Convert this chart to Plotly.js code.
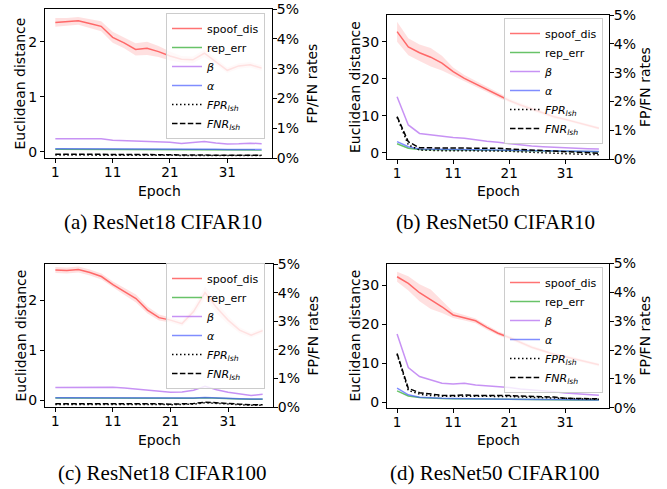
<!DOCTYPE html>
<html>
<head>
<meta charset="utf-8">
<script src="https://cdn.plot.ly/plotly-3.0.1.min.js"></script>
<style>html,body{margin:0;padding:0;background:#fff;}#chart{width:667px;height:489px;}</style>
</head>
<body>
<div id="chart"></div>
<script>
// ---------- data ----------
const epochs = [1,3,5,7,9,11,13,15,17,19,21,23,25,27,29,31,33,35,37];
const xTicks = [1, 11, 21, 31];
const rateTicks = [0, 1, 2, 3, 4, 5];
const seriesNames = ["spoof_dis", "rep_err", "<i>β</i>", "<i>α</i>", "<i>FPR<sub>lsh</sub></i>", "<i>FNR<sub>lsh</sub></i>"];
const captions = ["(a) ResNet18 CIFAR10", "(b) ResNet50 CIFAR10", "(c) ResNet18 CIFAR100", "(d) ResNet50 CIFAR100"];

// (a) ResNet18 CIFAR10
const aSpoof    = [2.35,2.36,2.38,2.33,2.28,2.08,1.98,1.86,1.88,1.82,1.74,1.68,1.67,1.79,1.64,1.48,1.56,1.58,1.52];
const aSpoofStd = [0.08,0.07,0.07,0.08,0.09,0.10,0.10,0.11,0.12,0.10,0.08,0.06,0.06,0.07,0.06,0.05,0.05,0.05,0.05];
const aRep      = [0.045,0.045,0.045,0.045,0.044,0.042,0.042,0.040,0.040,0.038,0.038,0.036,0.036,0.036,0.035,0.033,0.033,0.033,0.032];
const aBeta     = [0.236,0.238,0.238,0.237,0.236,0.207,0.200,0.190,0.190,0.180,0.170,0.150,0.170,0.185,0.160,0.140,0.145,0.155,0.145];
const aAlpha    = [0.055,0.055,0.055,0.055,0.054,0.050,0.050,0.048,0.047,0.046,0.045,0.044,0.043,0.043,0.042,0.040,0.040,0.040,0.038];
const aFPR      = [0.10,0.10,0.10,0.10,0.10,0.10,0.09,0.09,0.09,0.09,0.09,0.08,0.08,0.09,0.08,0.08,0.08,0.08,0.08];
const aFNR      = [0.13,0.13,0.13,0.13,0.13,0.12,0.12,0.12,0.12,0.11,0.11,0.10,0.10,0.11,0.10,0.09,0.09,0.09,0.09];

// (b) ResNet50 CIFAR10
const bSpoof    = [32.7,28.6,27.0,25.8,24.2,21.9,20.1,18.6,17.1,15.6,14.1,12.9,11.8,10.8,9.7,9.0,8.2,7.5,6.6];
const bSpoofStd = [2.7,2.3,2.2,2.5,2.0,1.1,0.9,0.8,0.7,0.7,0.6,0.6,0.5,0.5,0.5,0.4,0.4,0.4,0.4];
const bRep      = [2.4,1.2,0.9,0.85,0.8,0.8,0.75,0.75,0.7,0.65,0.6,0.55,0.5,0.45,0.4,0.35,0.3,0.3,0.25];
const bBeta     = [15.1,7.5,5.2,4.8,4.5,4.1,3.9,3.4,3.1,2.8,2.4,2.1,1.8,1.6,1.4,1.3,1.2,1.1,1.0];
const bAlpha    = [3.0,1.6,1.0,0.95,0.9,0.85,0.8,0.8,0.75,0.7,0.65,0.6,0.55,0.5,0.45,0.4,0.35,0.3,0.3];
const bFPR      = [1.45,0.49,0.31,0.29,0.29,0.29,0.29,0.29,0.29,0.28,0.27,0.25,0.23,0.21,0.19,0.18,0.17,0.16,0.15];
const bFNR      = [1.47,0.60,0.39,0.39,0.39,0.39,0.39,0.38,0.38,0.37,0.35,0.33,0.31,0.29,0.27,0.25,0.23,0.21,0.20];

// (c) ResNet18 CIFAR100
const cSpoof    = [2.60,2.59,2.61,2.55,2.47,2.31,2.17,2.03,1.80,1.65,1.60,1.53,1.77,2.15,1.85,1.60,1.40,1.30,1.39];
const cSpoofStd = [0.06,0.06,0.06,0.06,0.06,0.06,0.07,0.08,0.07,0.06,0.05,0.05,0.08,0.12,0.12,0.08,0.06,0.05,0.05];
const cRep      = [0.045,0.045,0.045,0.045,0.045,0.045,0.043,0.040,0.038,0.036,0.035,0.035,0.040,0.052,0.040,0.030,0.025,0.020,0.020];
const cBeta     = [0.253,0.255,0.265,0.267,0.265,0.260,0.245,0.225,0.200,0.175,0.160,0.165,0.200,0.280,0.210,0.160,0.120,0.095,0.120];
const cAlpha    = [0.050,0.050,0.050,0.050,0.050,0.050,0.048,0.045,0.042,0.040,0.040,0.040,0.045,0.058,0.045,0.035,0.030,0.025,0.025];
const cFPR      = [0.09,0.09,0.10,0.10,0.11,0.11,0.10,0.10,0.09,0.09,0.08,0.08,0.10,0.15,0.12,0.10,0.08,0.06,0.06];
const cFNR      = [0.11,0.11,0.12,0.12,0.13,0.13,0.12,0.12,0.11,0.11,0.10,0.10,0.12,0.17,0.14,0.12,0.10,0.08,0.08];

// (d) ResNet50 CIFAR100
const dSpoof    = [32.2,30.5,28.1,26.4,24.5,22.4,21.7,20.9,19.2,17.7,16.6,15.3,14.1,13.2,12.3,11.7,11.0,10.4,9.6];
const dSpoofStd = [1.3,1.8,2.2,2.5,1.6,0.8,0.7,0.6,0.6,0.5,0.5,0.5,0.5,0.4,0.4,0.4,0.4,0.4,0.4];
const dRep      = [2.9,1.6,1.2,1.0,0.95,0.9,0.85,0.85,0.8,0.8,0.75,0.75,0.7,0.65,0.65,0.6,0.55,0.55,0.55];
const dBeta     = [17.5,8.9,6.6,5.7,4.9,4.7,4.9,4.4,4.2,4.0,3.8,3.4,3.2,2.9,2.7,2.4,2.2,2.1,1.8];
const dAlpha    = [3.6,1.9,1.3,1.1,1.0,0.95,0.9,0.9,0.85,0.85,0.8,0.8,0.75,0.7,0.7,0.65,0.6,0.6,0.6];
const dFPR      = [1.85,0.60,0.47,0.42,0.40,0.40,0.41,0.40,0.40,0.39,0.39,0.37,0.36,0.35,0.34,0.31,0.30,0.29,0.29];
const dFNR      = [1.88,0.67,0.52,0.47,0.43,0.42,0.44,0.42,0.43,0.42,0.42,0.40,0.38,0.38,0.37,0.33,0.32,0.31,0.31];

// ---------- layout helpers ----------
const W = 667, H = 489;
const FONT = "DejaVu Sans, sans-serif";
const colors = {
  spoof: "rgba(255,40,40,0.65)", band: "rgba(255,0,0,0.12)",
  rep: "rgba(40,170,40,0.7)", beta: "rgba(175,100,240,0.7)", alpha: "rgba(60,80,255,0.65)"
};

const panels = [
  {d:[aSpoof,aSpoofStd,aRep,aBeta,aAlpha,aFPR,aFNR], px:[45,272], py:[9,158], yr:[-0.115,2.595], yt:[0,1,2],
   leg:[166,13], ylab:20, rlab:312, xlab:[159,191], cap:[163,222]},
  {d:[bSpoof,bSpoofStd,bRep,bBeta,bAlpha,bFPR,bFNR], px:[387,609], py:[15,159], yr:[-1.7,37.2], yt:[0,10,20,30],
   leg:[504,18], ylab:355, rlab:645, xlab:[498,191], cap:[495,222]},
  {d:[cSpoof,cSpoofStd,cRep,cBeta,cAlpha,cFPR,cFNR], px:[45,273], py:[264,407], yr:[-0.134,2.72], yt:[0,1,2],
   leg:[166,263], ylab:20, rlab:312, xlab:[159,440], cap:[162,473]},
  {d:[dSpoof,dSpoofStd,dRep,dBeta,dAlpha,dFPR,dFNR], px:[387,609], py:[263.5,407.7], yr:[-1.4,35.6], yt:[0,10,20,30],
   leg:[504,267], ylab:355, rlab:645, xlab:[498,440], cap:[495,473]}
];

const traces = [];
const layout = {
  width: W, height: H, margin: {l:0, r:0, t:0, b:0},
  paper_bgcolor: "#fff", plot_bgcolor: "rgba(0,0,0,0)",
  font: {family: FONT, size: 14, color: "#000"},
  annotations: [], showlegend: true
};

const axisBase = {
  showgrid: false, zeroline: false, showline: true, linecolor: "#000", linewidth: 1,
  ticks: "outside", ticklen: 4, tickwidth: 1, tickcolor: "#000",
  tickfont: {family: FONT, size: 14, color: "#000"}
};

panels.forEach((p, i) => {
  const xn = i === 0 ? "" : String(i + 1);
  const yl = String(2 * i + 1), yr = String(2 * i + 2);
  const yln = yl === "1" ? "" : yl;
  const xa = "x" + xn, ya = "y" + yln, yb = "y" + yr;
  const legId = i === 0 ? "legend" : "legend" + (i + 1);
  const [spoof, std, rep, beta, alpha, fpr, fnr] = p.d;
  const lo = spoof.map((v, k) => v - std[k]);
  const hi = spoof.map((v, k) => v + std[k]);

  traces.push({x: epochs, y: lo, xaxis: xa, yaxis: ya, mode: "lines", line: {width: 0, color: "rgba(0,0,0,0)"},
               showlegend: false, hoverinfo: "skip", legend: legId});
  traces.push({x: epochs, y: hi, xaxis: xa, yaxis: ya, mode: "lines", line: {width: 0, color: "rgba(0,0,0,0)"},
               fill: "tonexty", fillcolor: colors.band, showlegend: false, hoverinfo: "skip", legend: legId});
  const lines = [
    [spoof, colors.spoof, "solid", ya, 0],
    [rep, colors.rep, "solid", ya, 1],
    [beta, colors.beta, "solid", ya, 2],
    [alpha, colors.alpha, "solid", ya, 3],
    [fpr, "#000", "1.5px,2.5px", yb, 4],
    [fnr, "#000", "5.5px,2.4px", yb, 5]
  ];
  lines.forEach(([vals, col, dash, yax, n]) => {
    traces.push({x: epochs, y: vals, xaxis: xa, yaxis: yax, mode: "lines",
                 line: {color: col, width: 1.5, dash: dash}, name: seriesNames[n], legend: legId});
  });

  layout["xaxis" + xn] = Object.assign({}, axisBase, {
    domain: [p.px[0] / W, p.px[1] / W], anchor: ya, range: [-0.8, 38.8], ticklabelstandoff: -2,
    tickfont: {family: FONT, size: 13.5, color: "#000"},
    tickmode: "array", tickvals: xTicks, ticktext: xTicks.map(String), mirror: true
  });
  layout["yaxis" + yln] = Object.assign({}, axisBase, {
    domain: [1 - p.py[1] / H, 1 - p.py[0] / H], anchor: xa, range: p.yr,
    tickmode: "array", tickvals: p.yt, ticktext: p.yt.map(String)
  });
  layout["yaxis" + yr] = Object.assign({}, axisBase, {
    overlaying: ya, side: "right", anchor: xa, range: [0, 5], ticklabelstandoff: -3,
    tickmode: "array", tickvals: rateTicks, ticktext: rateTicks.map(v => v + "%")
  });
  layout[legId] = {
    x: p.leg[0] / W, y: 1 - p.leg[1] / H, xanchor: "left", yanchor: "top", traceorder: "normal",
    bgcolor: "rgba(255,255,255,0.8)", bordercolor: "#cccccc", borderwidth: 1,
    font: {family: FONT, size: 11, color: "#000"}, tracegroupgap: 0
  };
  const ann = (text, x, y, extra) => layout.annotations.push(Object.assign({
    text: text, x: x / W, y: 1 - y / H, xref: "paper", yref: "paper", xanchor: "center", yanchor: "middle",
    showarrow: false, font: {family: FONT, size: 14, color: "#000"}}, extra || {}));
  ann("Euclidean distance", p.ylab, (p.py[0] + p.py[1]) / 2, {textangle: -90});
  ann("FP/FN rates", p.rlab, (p.py[0] + p.py[1]) / 2, {textangle: -90});
  ann("Epoch", p.xlab[0], p.xlab[1]);
  ann(captions[i], p.cap[0], p.cap[1], {font: {family: "Liberation Serif, Times New Roman, serif", size: 21, color: "#000"}});
});

Plotly.newPlot("chart", traces, layout, {displayModeBar: false, staticPlot: true});
</script>
</body>
</html>
